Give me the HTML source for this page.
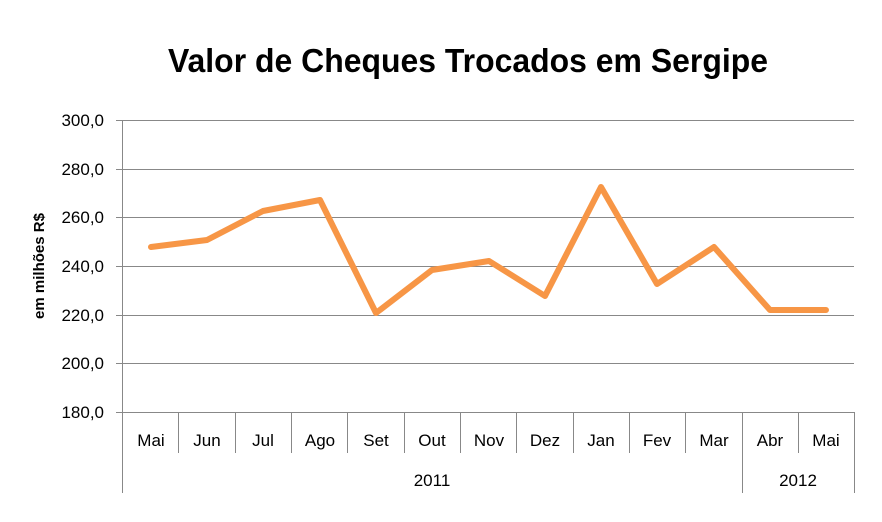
<!DOCTYPE html>
<html><head><style>body{margin:0;background:#fff}</style></head><body>
<svg width="882" height="517" xmlns="http://www.w3.org/2000/svg" font-family="'Liberation Sans', sans-serif">
<rect width="882" height="517" fill="#fff"/>
<text x="468" y="72" text-anchor="middle" font-size="33" font-weight="bold" fill="#000" textLength="600" lengthAdjust="spacingAndGlyphs">Valor de Cheques Trocados em Sergipe</text>
<g stroke="#888" stroke-width="1">
<line x1="116" y1="120.5" x2="854" y2="120.5"/>
<line x1="116" y1="169.5" x2="854" y2="169.5"/>
<line x1="116" y1="217.5" x2="854" y2="217.5"/>
<line x1="116" y1="266.5" x2="854" y2="266.5"/>
<line x1="116" y1="315.5" x2="854" y2="315.5"/>
<line x1="116" y1="363.5" x2="854" y2="363.5"/>
<line x1="116" y1="412.5" x2="854" y2="412.5"/>
<line x1="122.5" y1="120" x2="122.5" y2="493"/>
<line x1="178.5" y1="412" x2="178.5" y2="453"/>
<line x1="235.5" y1="412" x2="235.5" y2="453"/>
<line x1="291.5" y1="412" x2="291.5" y2="453"/>
<line x1="347.5" y1="412" x2="347.5" y2="453"/>
<line x1="404.5" y1="412" x2="404.5" y2="453"/>
<line x1="460.5" y1="412" x2="460.5" y2="453"/>
<line x1="516.5" y1="412" x2="516.5" y2="453"/>
<line x1="573.5" y1="412" x2="573.5" y2="453"/>
<line x1="629.5" y1="412" x2="629.5" y2="453"/>
<line x1="685.5" y1="412" x2="685.5" y2="453"/>
<line x1="742.5" y1="412" x2="742.5" y2="493"/>
<line x1="798.5" y1="412" x2="798.5" y2="453"/>
<line x1="854.5" y1="412" x2="854.5" y2="493"/>
</g>
<g font-size="17" fill="#000" text-anchor="end">
<text x="104" y="126">300,0</text><text x="104" y="175">280,0</text><text x="104" y="223">260,0</text>
<text x="104" y="272">240,0</text><text x="104" y="321">220,0</text><text x="104" y="369">200,0</text><text x="104" y="418">180,0</text>
</g>
<text transform="translate(44,266) rotate(-90)" text-anchor="middle" font-size="15" font-weight="bold">em milhões R$</text>
<g font-size="17" fill="#000" text-anchor="middle">
<text x="151" y="446">Mai</text><text x="207" y="446">Jun</text><text x="263" y="446">Jul</text><text x="320" y="446">Ago</text>
<text x="376" y="446">Set</text><text x="432" y="446">Out</text><text x="489" y="446">Nov</text><text x="545" y="446">Dez</text>
<text x="601" y="446">Jan</text><text x="657" y="446">Fev</text><text x="714" y="446">Mar</text><text x="770" y="446">Abr</text><text x="826" y="446">Mai</text>
<text x="432" y="486">2011</text><text x="798" y="486">2012</text>
</g>
<polyline fill="none" stroke="#F79646" stroke-width="6" stroke-linejoin="round" stroke-linecap="round"
points="151,247 207,240 263,211 320,200 376,313 432,270 489,261 545,296 601,187 657,284 714,247 770,310 826,310"/>
</svg>
</body></html>
